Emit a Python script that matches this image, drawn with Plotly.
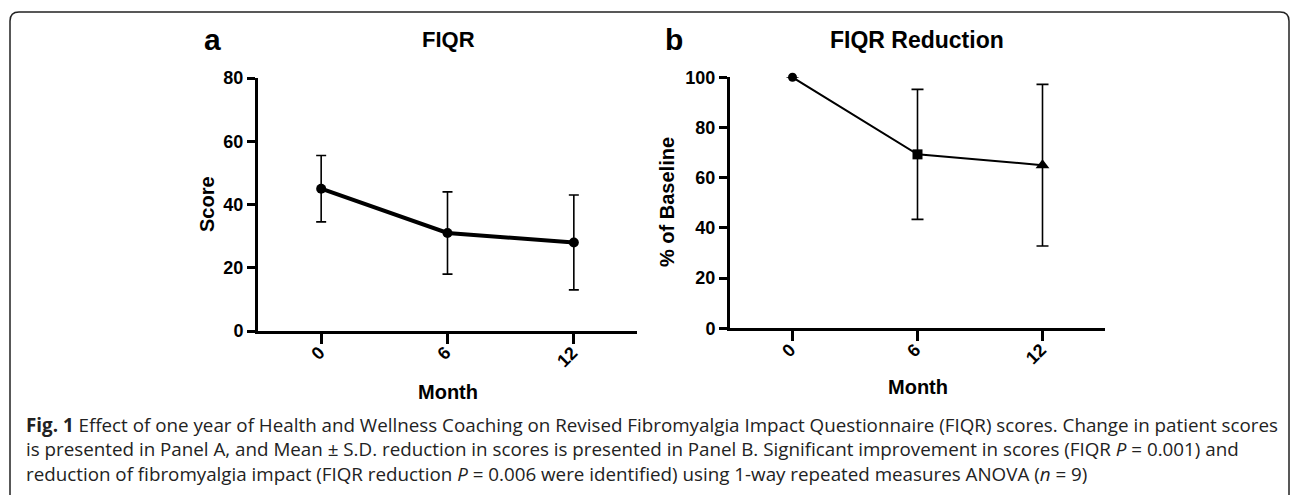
import plotly.graph_objects as go

# ---- data ----
months = [0, 6, 12]
month_labels = ["0", "6", "12"]
fiqr_mean = [45, 31, 28]
fiqr_sd = [10.5, 13, 15]
red_mean = [100, 69.3, 65]
red_sd = [None, 25.9, 32.2]
red_symbols = ["circle", "square", "triangle-up"]
red_sizes = [9, 10, 12]

W, H = 1292, 495
def px(x):
    return x / W
def py(y):
    return 1 - y / H

BOLD = "Arial, Liberation Sans, sans-serif"

fig = go.Figure()

# panel a
fig.add_trace(go.Scatter(
    x=months, y=fiqr_mean, xaxis="x", yaxis="y", mode="lines+markers",
    line=dict(color="black", width=4),
    marker=dict(symbol="circle", size=10, color="black", opacity=1,
                line=dict(width=0)),
    error_y=dict(type="data", array=fiqr_sd, visible=True, color="black",
                 thickness=1.6, width=5),
    showlegend=False, cliponaxis=False))

# panel b: line + error bars
fig.add_trace(go.Scatter(
    x=months, y=red_mean, xaxis="x2", yaxis="y2", mode="lines",
    line=dict(color="black", width=2),
    error_y=dict(type="data", array=red_sd, visible=True, color="black",
                 thickness=1.6, width=6),
    showlegend=False, cliponaxis=False))
# panel b: markers (distinct symbol per time point)
for m, v, s, sz in zip(months, red_mean, red_symbols, red_sizes):
    fig.add_trace(go.Scatter(
        x=[m], y=[v], xaxis="x2", yaxis="y2", mode="markers",
        marker=dict(symbol=s, size=sz, color="black", opacity=1,
                    line=dict(width=0)),
        showlegend=False, cliponaxis=False))

axis_common = dict(showline=True, linecolor="black", linewidth=3, ticks="outside",
                   tickwidth=3, tickcolor="black", showgrid=False, zeroline=False,
                   automargin=False,
                   tickfont=dict(family=BOLD, size=18, color="black", weight="bold"))

fig.update_layout(
    width=W, height=H, autosize=False,
    margin=dict(l=0, r=0, t=0, b=0, pad=0, autoexpand=False),
    showlegend=False,
    paper_bgcolor="white", plot_bgcolor="white",
    xaxis=dict(domain=[px(258), px(637)], range=[-3, 15], anchor="y",
               tickvals=months, showticklabels=False, ticklen=10, **axis_common),
    yaxis=dict(domain=[py(331), py(78)], range=[0, 80], anchor="x",
               tickvals=[0, 20, 40, 60, 80], ticklen=8, **axis_common),
    xaxis2=dict(domain=[px(730), px(1105)], range=[-3, 15], anchor="y2",
                tickvals=months, showticklabels=False, ticklen=10, **axis_common),
    yaxis2=dict(domain=[py(328.3), py(77.3)], range=[0, 100], anchor="x2",
                tickvals=[0, 20, 40, 60, 80, 100], ticklen=8, **axis_common),
)

def ann(text, x, y, size, bold=True, angle=0, xanchor="center", yanchor="middle",
        family=BOLD, color="black", align="center"):
    fig.add_annotation(text=text, x=px(x), y=py(y), xref="paper", yref="paper",
                       showarrow=False, textangle=angle, xanchor=xanchor, yanchor=yanchor,
                       align=align,
                       font=dict(family=family, size=size, color=color,
                                 weight="bold" if bold else "normal"))

# rotated month tick labels, placed on the data axes
for xref, axis_y in (("x", 331), ("x2", 328.3)):
    for m, lab in zip(months, month_labels):
        w = 10 * len(lab)
        fig.add_annotation(text=lab, x=m, xref=xref, y=py(axis_y + 18.5 + 0.354 * w),
                           yref="paper", xshift=0.5 - 0.354 * w, showarrow=False,
                           textangle=-45, xanchor="center", yanchor="middle",
                           font=dict(family=BOLD, size=18, color="black", weight="bold"))

# panel labels & titles
ann("a", 212, 40, 30)
ann("b", 674, 40, 30)
ann("FIQR", 448, 40, 22)
ann("FIQR Reduction", 917, 40, 23)
ann("Score", 207, 204, 20, angle=-90)
ann("% of Baseline", 667, 202, 20, angle=-90)
ann("Month", 448, 392, 20)
ann("Month", 918, 387, 20)

# caption
CAP = "Open Sans, Noto Sans, sans-serif"
cap_lines = [
    "<b>Fig. 1</b> Effect of one year of Health and Wellness Coaching on Revised Fibromyalgia Impact Questionnaire (FIQR) scores. Change in patient scores",
    "is presented in Panel A, and Mean ± S.D. reduction in scores is presented in Panel B. Significant improvement in scores (FIQR <i>P</i> = 0.001) and",
    "reduction of fibromyalgia impact (FIQR reduction <i>P</i> = 0.006 were identified) using 1-way repeated measures ANOVA (<i>n</i> = 9)",
]
ann("<br>".join(cap_lines), 24, 449.5, 18.8, bold=False, xanchor="left",
    family=CAP, color="#222", align="left")

# frame (rounded top corners, open at bottom)
r = 9
x0, y0, x1, y1 = 10, 12, 1289, 497
def P(x, y):
    return f"{px(x)},{py(y)}"
path = (f"M {P(x0,y1)} L {P(x0,y0+r)} Q {P(x0,y0)} {P(x0+r,y0)} "
        f"L {P(x1-r,y0)} Q {P(x1,y0)} {P(x1,y0+r)} L {P(x1,y1)}")
fig.add_shape(type="path", path=path, xref="paper", yref="paper",
              line=dict(color="#222", width=1.5))

fig.write_html("out.html", config={"displayModeBar": False},
               post_script="document.body.style.margin='0';document.body.style.overflow='hidden';")
